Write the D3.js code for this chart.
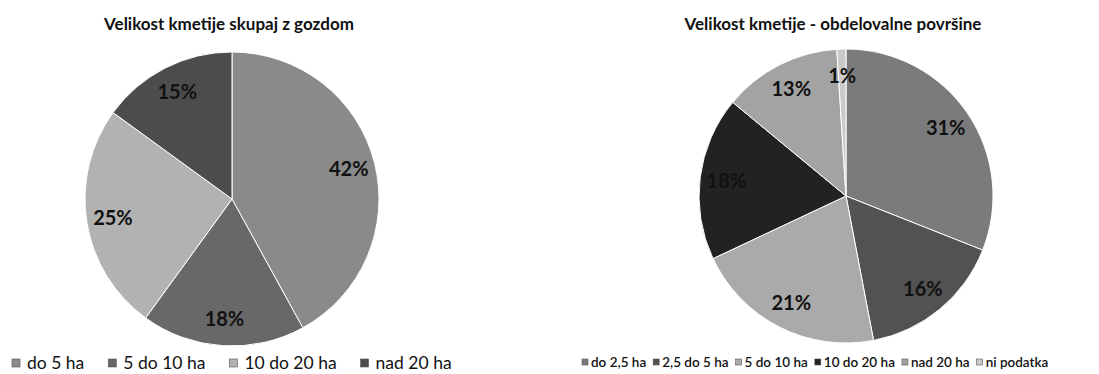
<!DOCTYPE html>
<html><head><meta charset="utf-8">
<script src="https://cdn.jsdelivr.net/npm/d3@7"></script>
<style>body{margin:0;background:#fff}svg{display:block}</style>
</head><body>
<svg id="c" width="1099" height="374"></svg>
<script>
const leftTitle = "Velikost kmetije skupaj z gozdom";
const leftCats = ["do 5 ha","5 do 10 ha","10 do 20 ha","nad 20 ha"];
const leftVals = [42,18,25,15];
const leftColors = ["#8a8a8a","#686868","#b2b2b2","#4c4c4c"];

const rightTitle = "Velikost kmetije - obdelovalne površine";
const rightCats = ["do 2,5 ha","2,5 do 5 ha","5 do 10 ha","10 do 20 ha","nad 20 ha","ni podatka"];
const rightVals = [31,16,21,18,13,1];
const rightColors = ["#7b7b7b","#525252","#aaaaaa","#222222","#a3a3a3","#cacaca"];

const svg = d3.select("#c");
const font = "Lato, 'Open Sans', sans-serif";

function drawPie(cfg){
  const g = svg.append("g").attr("transform",`translate(${cfg.cx},${cfg.cy})`);
  const pie = d3.pie().sort(null).value(d=>d.v);
  const data = pie(cfg.cats.map((c,i)=>({c, v:cfg.vals[i], col:cfg.colors[i]})));
  const arc = d3.arc().innerRadius(0).outerRadius(cfg.r);
  const lab = d3.arc().innerRadius(cfg.r*0.82).outerRadius(cfg.r*0.82);
  g.selectAll("path").data(data).join("path")
    .attr("d",arc).attr("fill",d=>d.data.col)
    .attr("stroke","#fff").attr("stroke-width",1);
  g.selectAll("text").data(data).join("text")
    .attr("transform",d=>`translate(${lab.centroid(d)})`)
    .attr("text-anchor","middle").attr("dy","0.35em")
    .attr("font-family",font).attr("font-weight","bold").attr("font-size",20)
    .attr("fill","#111").text(d=>d.data.v+"%");
  svg.append("text").attr("x",cfg.tx).attr("y",30).attr("text-anchor","middle")
    .attr("font-family",font).attr("font-weight","bold").attr("font-size",cfg.tfs)
    .attr("fill","#111").text(cfg.title);
  // legend
  const lg = svg.append("g");
  let x = cfg.lx;
  cfg.cats.forEach((c,i)=>{
    lg.append("rect").attr("x",x).attr("y",cfg.ly-cfg.ms/2).attr("width",cfg.ms).attr("height",cfg.ms)
      .attr("fill",cfg.colors[i]).attr("stroke","#555").attr("stroke-width",0.6);
    const t = lg.append("text").attr("x",x+cfg.ms+cfg.mg).attr("y",cfg.ly).attr("dy","0.35em")
      .attr("font-family",font).attr("font-size",cfg.lfs).attr("font-weight",cfg.lfw).attr("fill","#111").text(c);
    x += cfg.ms+cfg.mg+t.node().getComputedTextLength()+cfg.gap;
  });
}

drawPie({cx:232,cy:199,r:147,cats:leftCats,vals:leftVals,colors:leftColors,
  title:leftTitle,tx:229,tfs:17,lx:12,ly:363,ms:8,mg:7,lfs:17.5,lfw:"normal",gap:24});
drawPie({cx:846,cy:196,r:147,cats:rightCats,vals:rightVals,colors:rightColors,
  title:rightTitle,tx:833,tfs:17,lx:582,ly:362,ms:6,mg:3,lfs:13.5,lfw:"600",gap:7});
</script>
</body></html>
